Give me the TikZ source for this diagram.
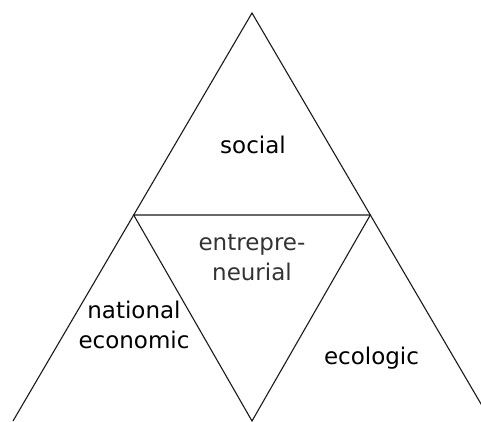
\documentclass[tikz,border=0pt]{standalone}
\usepackage{fontspec}
\setmainfont{DejaVu Sans}
\definecolor{edge}{HTML}{1A1A1A}
\definecolor{inner}{HTML}{333333}
\begin{document}
\begin{tikzpicture}[x=1pt,y=-1pt,
  side/.style={draw=edge,line width=1.1pt,line join=miter},
  label/.style={font=\fontsize{23}{29.5}\selectfont,align=center,anchor=base,inner sep=0pt,text=black}]
\useasboundingbox (0,0) rectangle (481,421);
% corner points of the subdivided triangle
\coordinate (apex) at (252,13);
\coordinate (bl) at (13,421);
\coordinate (br) at (491,421);
\coordinate (ml) at (133.7,215);
\coordinate (mr) at (370.3,215);
\coordinate (bm) at (252,421);
\begin{scope}
\clip (0,0) rectangle (481,421);
\draw[side] (bl) -- (apex) -- (br);
\draw[side] (ml) -- (mr) -- (bm) -- cycle;
\end{scope}
% region labels
\node[label] (social) at (253,153) {social};
\node[label,text=inner] (entre) at (252,280) {entrepre-\\neurial};
\node[label] (natec) at (134,348) {national\\economic};
\node[label] (eco) at (371.5,364) {ecologic};
\end{tikzpicture}
\end{document}
